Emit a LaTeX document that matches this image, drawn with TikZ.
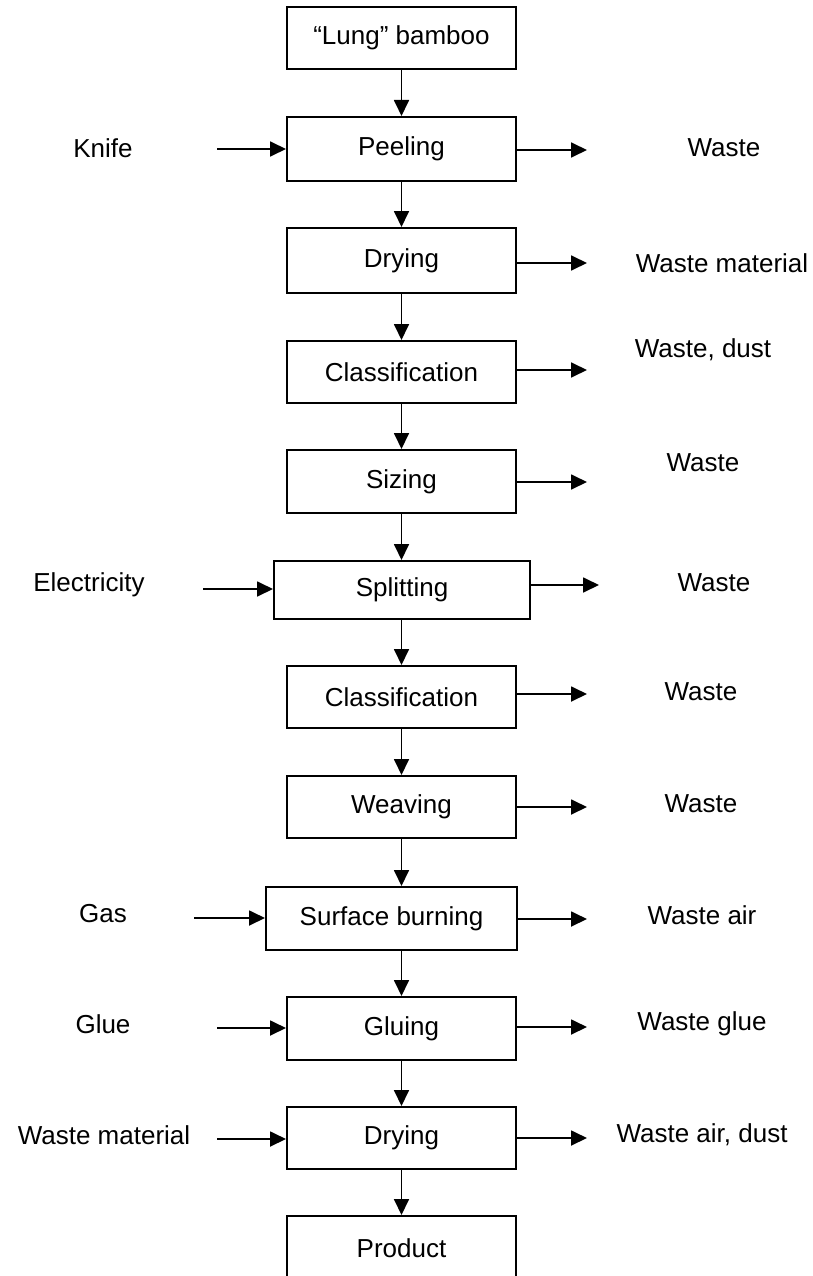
\documentclass[tikz,border=0pt]{standalone}
\usepackage{fontspec}
\setmainfont{Liberation Sans}
\usetikzlibrary{arrows.meta}
\begin{document}
\begin{tikzpicture}[x=1pt,y=-1pt,
  box/.style={draw, line width=2pt, inner sep=0pt, minimum height=62pt, minimum width=229pt, font=\fontsize{26}{30}\selectfont},
  lbl/.style={inner sep=0pt, font=\fontsize{26}{30}\selectfont},
  arr/.style={line width=1.8pt, -{Triangle[length=16pt,width=15pt]}}]
\useasboundingbox (0,0) rectangle (812,1276);
\clip (0,0) rectangle (812,1276);

% process boxes
\node[box] (lung) at (401.5,38) {“Lung” bamboo};
\node[box, minimum height=64pt] (peel) at (401.5,149) {Peeling};
\node[box, minimum height=65pt] (dry1) at (401.5,260.5) {Drying};
\node[box] (cls1) at (401.5,372) {Classification};
\node[box, minimum height=63pt] (size) at (401.5,481.5) {Sizing};
\node[box, minimum width=256pt, minimum height=58pt] (split) at (402,590) {Splitting};
\node[box] (cls2) at (401.5,697) {Classification};
\node[box] (weave) at (401.5,807) {Weaving};
\node[box, minimum width=251pt, minimum height=63pt] (surf) at (391.5,918.5) {Surface burning};
\node[box, minimum height=63pt] (glue) at (401.5,1028.5) {Gluing};
\node[box] (dry2) at (401.5,1138) {Drying};
\node[box, minimum height=64pt] (prod) at (401.5,1248) {Product};

% main flow
\draw[arr] (lung.south) -- (peel.north);
\draw[arr] (peel.south) -- (dry1.north);
\draw[arr] (dry1.south) -- (cls1.north);
\draw[arr] (cls1.south) -- (size.north);
\draw[arr] (size.south) -- (size.south |- split.north);
\draw[arr] (size.south |- split.south) -- (cls2.north);
\draw[arr] (cls2.south) -- (weave.north);
\draw[arr] (weave.south) -- (weave.south |- surf.north);
\draw[arr] (glue.north |- surf.south) -- (glue.north);
\draw[arr] (glue.south) -- (dry2.north);
\draw[arr] (dry2.south) -- (prod.north);

% inputs
\node[lbl] (knife) at (103,148) {Knife};
\coordinate (knifeA) at (217,149);
\draw[arr] (knifeA) -- (knifeA -| peel.west);

\node[lbl] (elec) at (89,585) {Electricity};
\coordinate (elecA) at (203,589);
\draw[arr] (elecA) -- (elecA -| split.west);

\node[lbl] (gas) at (103,914) {Gas};
\coordinate (gasA) at (194,918);
\draw[arr] (gasA) -- (gasA -| surf.west);

\node[lbl] (gluein) at (103,1024) {Glue};
\coordinate (glueA) at (217,1028);
\draw[arr] (glueA) -- (glueA -| glue.west);

\node[lbl] (wmin) at (104,1135) {Waste material};
\coordinate (wminA) at (217,1139);
\draw[arr] (wminA) -- (wminA -| dry2.west);

% outputs
\node[lbl] (o1) at (724,148) {Waste};
\coordinate (o1A) at (587,150);
\draw[arr] (peel.east |- o1A) -- (o1A);

\node[lbl] (o2) at (722,263) {Waste material};
\coordinate (o2A) at (587,263);
\draw[arr] (dry1.east |- o2A) -- (o2A);

\node[lbl] (o3) at (703,350) {Waste, dust};
\coordinate (o3A) at (587,370);
\draw[arr] (cls1.east |- o3A) -- (o3A);

\node[lbl] (o4) at (703,463) {Waste};
\coordinate (o4A) at (587,482);
\draw[arr] (size.east |- o4A) -- (o4A);

\node[lbl] (o5) at (714,583) {Waste};
\coordinate (o5A) at (599,585);
\draw[arr] (split.east |- o5A) -- (o5A);

\node[lbl] (o6) at (701,692) {Waste};
\coordinate (o6A) at (587,694);
\draw[arr] (cls2.east |- o6A) -- (o6A);

\node[lbl] (o7) at (701,804) {Waste};
\coordinate (o7A) at (587,807);
\draw[arr] (weave.east |- o7A) -- (o7A);

\node[lbl] (o8) at (702,915) {Waste air};
\coordinate (o8A) at (587,919);
\draw[arr] (surf.east |- o8A) -- (o8A);

\node[lbl] (o9) at (702,1024) {Waste glue};
\coordinate (o9A) at (587,1027);
\draw[arr] (glue.east |- o9A) -- (o9A);

\node[lbl] (o10) at (702,1135) {Waste air, dust};
\coordinate (o10A) at (587,1138);
\draw[arr] (dry2.east |- o10A) -- (o10A);
\end{tikzpicture}
\end{document}
